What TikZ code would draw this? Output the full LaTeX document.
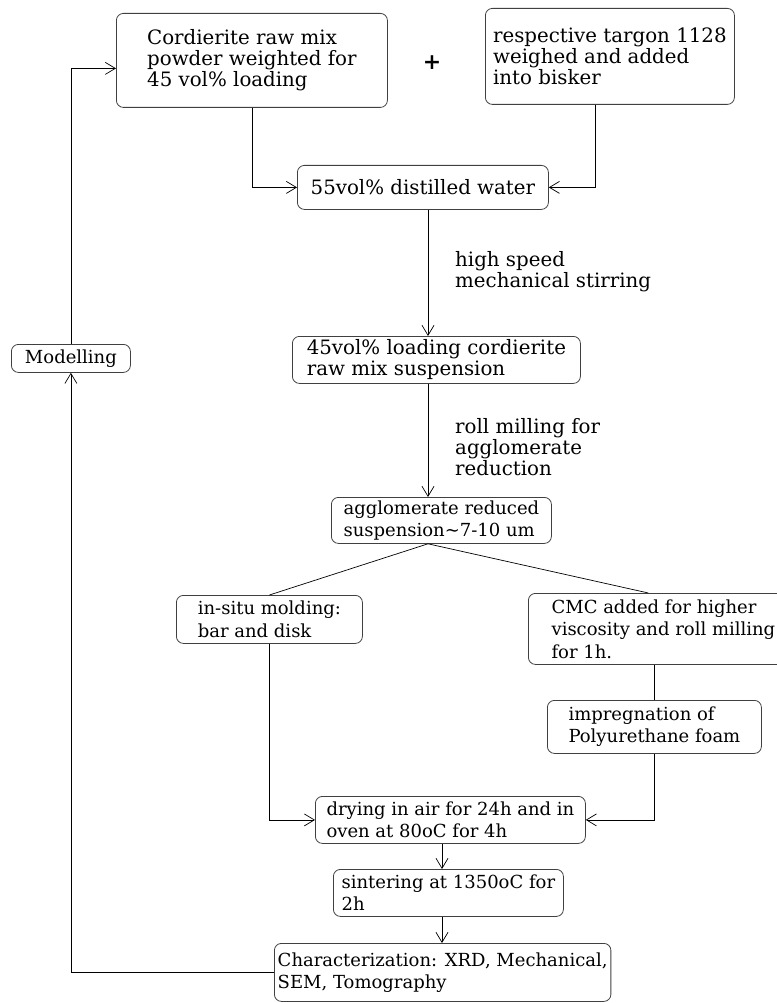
\documentclass[tikz,border=0pt]{standalone}
\usepackage{fontspec}
\setmainfont{DejaVu Serif}
\usetikzlibrary{arrows.meta}
\tikzset{
  box/.style={draw=black!75, line width=0.8pt, rounded corners=7pt, anchor=north west, align=left, inner ysep=0pt},
  wettext/.style={font=\fontsize{19.8}{21}\selectfont},
  drytext/.style={font=\fontsize{18}{22.5}\selectfont},
  note/.style={wettext, anchor=west, align=left, inner sep=0pt},
  flow/.style={-{Straight Barb[length=10pt,width=12pt]}, line width=0.7pt},
  link/.style={line width=0.7pt},
}
\begin{document}
\begin{tikzpicture}
  [
    x={(1pt,0pt)},
    y={(0pt,-1pt)}
  ]
  \useasboundingbox (0,0) rectangle (776,1003);
  % Columns of the main line
  \coordinate (axis) at (428,0);
  \coordinate (col) at (442,0);
  % Starting materials
  \node[box, wettext, minimum width=271pt, minimum height=94pt] (raw) at (116,13) {Cordierite raw mix\\powder weighted for\\45 vol\% loading};
  \node[font=\fontsize{22}{22}\selectfont\bfseries] (plus) at (432,63) {+};
  \node[box, wettext, minimum width=249pt, minimum height=96pt] (targon) at (485,8) {respective targon 1128\\weighed and added\\into bisker};
  \node[box, wettext, minimum width=251pt, minimum height=44pt] (water) at (297,165) {55vol\% distilled water};
  % Suspension
  \node[box, wettext, minimum width=288pt, minimum height=47pt] (suspension) at (292,336) {45vol\% loading cordierite\\raw mix suspension};
  \node[box, drytext, minimum width=220pt, minimum height=46pt] (reduced) at (331,497) {agglomerate reduced\\suspension\textasciitilde7-10 um};
  \node[note] (stir) at (455,271.5) {high speed\\mechanical stirring};
  \node[note] (mill) at (455,447) {roll milling for\\agglomerate\\reduction};
  % Shaping routes
  \node[box, drytext, minimum width=186pt, minimum height=48pt] (molding) at (176,595) {in-situ molding:\\bar and disk};
  \node[box, drytext, minimum width=270pt, minimum height=71pt] (cmc) at (528,593) {CMC added for higher\\viscosity and roll milling\\for 1h.};
  \node[box, drytext, minimum width=214pt, minimum height=53pt] (foam) at (547,700) {impregnation of\\Polyurethane foam};
  % Thermal steps
  \node[box, drytext, minimum width=270pt, minimum height=47pt] (drying) at (315,796) {drying in air for 24h and in\\oven at 80oC for 4h};
  \node[box, drytext, minimum width=230pt, minimum height=47pt] (sinter) at (333,869) {sintering at 1350oC for\\2h};
  \node[box, drytext, minimum width=335pt, minimum height=58pt] (charact) at (274,943) {Characterization: XRD, Mechanical,\\SEM, Tomography};
  \node[box, drytext, minimum width=119pt, minimum height=28pt] (model) at (11,344) {Modelling};
  % Connectors
  \draw[flow] (raw.south) |- (water.west);
  \draw[flow] ([xshift=-15pt]targon.south) |- (water.east);
  \draw[flow] (water.south -| axis) -- (suspension.north -| axis);
  \draw[flow] (suspension.south -| axis) -- (reduced.north -| axis);
  \draw[link] (reduced.south -| axis) -- (molding.north);
  \draw[link] (reduced.south -| axis) -- ([xshift=-15pt]cmc.north);
  \draw[link] (cmc.south -| foam.north) -- (foam.north);
  \draw[flow] (molding.south) |- (drying.west);
  \draw[flow] (foam.south) |- (drying.east);
  \foreach \a/\b in {drying/sinter, sinter/charact} {
      \draw[flow] (\a.south -| col) -- (\b.north -| col);
    }
  % Feedback loop
  \draw[flow] (charact.west) -| (model.south);
  \draw[flow] (model.north) |- ([yshift=-8pt]raw.west);
\end{tikzpicture}
\end{document}
